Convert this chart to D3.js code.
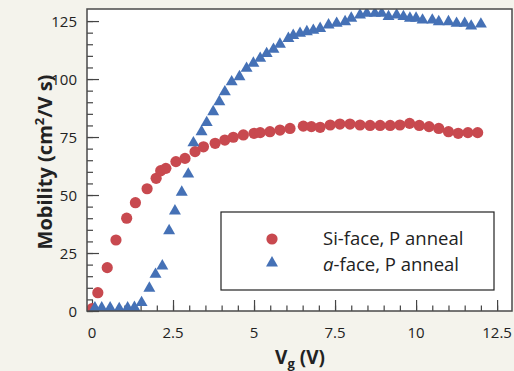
<!DOCTYPE html>
<html>
<head>
<meta charset="utf-8">
<script src="https://cdn.jsdelivr.net/npm/d3@7"></script>
<style>
  html, body { margin: 0; padding: 0; background: #f4f3ec; }
  svg { display: block; }
  text { font-family: "Open Sans", "Noto Sans", sans-serif; fill: #222; }
</style>
</head>
<body>
<svg id="chart" width="514" height="371"></svg>
<script>
// ---- Data ----
const siVg = [0.0, 0.18, 0.47, 0.74, 1.07, 1.34, 1.70, 1.98, 2.12, 2.28, 2.59, 2.87, 3.18, 3.44, 3.80, 4.10, 4.36, 4.67, 5.00, 5.19, 5.49, 5.80, 6.11, 6.52, 6.77, 7.04, 7.35, 7.65, 7.96, 8.27, 8.58, 8.89, 9.20, 9.50, 9.80, 10.10, 10.40, 10.70, 11.00, 11.30, 11.60, 11.90];
const siMob = [1.0, 7.9, 18.7, 30.6, 40.0, 46.7, 52.7, 57.2, 60.5, 61.5, 64.4, 65.8, 68.7, 70.8, 72.3, 73.7, 74.9, 75.9, 76.6, 76.9, 77.3, 78.0, 78.7, 79.7, 79.5, 79.2, 80.2, 80.6, 80.6, 80.2, 80.0, 80.0, 80.0, 80.2, 80.9, 80.0, 79.5, 78.7, 77.3, 76.6, 76.9, 76.9];

const aVg = [0.09, 0.30, 0.56, 0.84, 1.10, 1.31, 1.53, 1.77, 1.96, 2.17, 2.38, 2.56, 2.77, 2.97, 3.13, 3.38, 3.54, 3.74, 3.93, 4.10, 4.31, 4.55, 4.77, 4.98, 5.19, 5.39, 5.60, 5.80, 6.06, 6.21, 6.42, 6.63, 6.83, 7.04, 7.30, 7.55, 7.81, 8.00, 8.27, 8.48, 8.73, 8.94, 9.15, 9.40, 9.61, 9.81, 10.00, 10.20, 10.50, 10.70, 11.00, 11.25, 11.50, 11.70, 12.00];
const aMob = [1.3, 1.3, 1.3, 1.0, 1.3, 1.5, 3.6, 9.8, 15.8, 19.4, 34.6, 43.1, 51.2, 59.0, 72.5, 77.3, 81.2, 85.9, 90.2, 94.5, 98.8, 101.0, 104.6, 106.8, 108.9, 111.0, 112.8, 115.0, 117.5, 118.8, 119.7, 120.4, 121.0, 121.8, 123.3, 124.0, 124.7, 126.2, 127.6, 128.3, 128.3, 128.3, 126.9, 127.6, 126.9, 126.2, 126.2, 125.4, 125.4, 124.7, 124.7, 124.0, 124.0, 122.8, 123.7];

const xTicks = [0, 2.5, 5, 7.5, 10, 12.5];
const yTicks = [0, 25, 50, 75, 100, 125];
const seriesNames = ["Si-face, P anneal", "a-face, P anneal"];

// ---- Layout ----
const svg = d3.select("#chart");
const L = 87, R = 512, T = 9, B = 311;
const red = "#c8494f", blue = "#4571b6";

const x = d3.scaleLinear().domain([-0.154, 12.96]).range([L, R]);
const y = d3.scaleLinear().domain([0, 130.2]).range([B, T]);

svg.append("rect").attr("x", L).attr("y", T).attr("width", R - L).attr("height", B - T)
  .attr("fill", "#fff");

svg.append("clipPath").attr("id", "plotclip")
  .append("rect").attr("x", L).attr("y", T).attr("width", R - L).attr("height", B - T);

const xMinor = d3.range(0, 12.51, 0.5);
const yMinor = d3.range(0, 125.1, 5);
const tickColor = "#444";

// X axis (ticks point inward)
const gxm = svg.append("g").attr("transform", `translate(0,${B})`)
  .call(d3.axisTop(x).tickValues(xMinor).tickSize(5.5).tickFormat(""));
const gxM = svg.append("g").attr("transform", `translate(0,${B})`)
  .call(d3.axisTop(x).tickValues(xTicks).tickSize(11).tickFormat(""));
[gxm, gxM].forEach(g => {
  g.select(".domain").remove();
  g.selectAll("line").attr("stroke", tickColor).attr("stroke-width", 1.2);
});
svg.append("g").selectAll("text").data(xTicks).join("text")
  .attr("x", d => x(d)).attr("y", 338)
  .attr("text-anchor", "middle").attr("font-size", 15)
  .text(d => d3.format("")(d));

// Y axis (ticks point inward)
const gym = svg.append("g").attr("transform", `translate(${L},0)`)
  .call(d3.axisRight(y).tickValues(yMinor).tickSize(6).tickFormat(""));
const gyM = svg.append("g").attr("transform", `translate(${L},0)`)
  .call(d3.axisRight(y).tickValues(yTicks).tickSize(12).tickFormat(""));
[gym, gyM].forEach(g => {
  g.select(".domain").remove();
  g.selectAll("line").attr("stroke", tickColor).attr("stroke-width", 1.2);
});
svg.append("g").selectAll("text").data(yTicks).join("text")
  .attr("x", 77).attr("y", d => y(d) + 5.5)
  .attr("text-anchor", "end").attr("font-size", 15)
  .text(d => d);

// data
const plot = svg.append("g").attr("clip-path", "url(#plotclip)");
plot.selectAll("circle.si").data(siVg.map((v, i) => [v, siMob[i]])).join("circle")
  .attr("class", "si")
  .attr("cx", d => x(d[0])).attr("cy", d => y(d[1])).attr("r", 5.6)
  .attr("fill", red);

const tri = d3.symbol().type(d3.symbolTriangle).size(62);
plot.selectAll("path.a").data(aVg.map((v, i) => [v, aMob[i]])).join("path")
  .attr("class", "a")
  .attr("transform", d => `translate(${x(d[0])},${y(d[1])})`)
  .attr("d", tri)
  .attr("fill", blue);

// frame
svg.append("rect").attr("x", L).attr("y", T).attr("width", R - L).attr("height", B - T)
  .attr("fill", "none").attr("stroke", "#4a4a4a").attr("stroke-width", 1.5);

// legend
const lg = svg.append("g");
lg.append("rect").attr("x", 221).attr("y", 212).attr("width", 273).attr("height", 78)
  .attr("fill", "#fff").attr("stroke", "#222").attr("stroke-width", 1.2);
lg.append("circle").attr("cx", 272).attr("cy", 239).attr("r", 5.6).attr("fill", red);
lg.append("path").attr("transform", "translate(272,263)").attr("d", tri).attr("fill", blue);
lg.append("text").attr("x", 323).attr("y", 245).attr("font-size", 18.5).text(seriesNames[0]);
const t2 = lg.append("text").attr("x", 323).attr("y", 271).attr("font-size", 18.5);
t2.append("tspan").attr("font-style", "italic").text("a");
t2.append("tspan").text("-face, P anneal");

// axis titles
const yt = svg.append("text")
  .attr("transform", "translate(52,162) rotate(-90)")
  .attr("text-anchor", "middle").attr("font-size", 20).attr("font-weight", "bold");
yt.append("tspan").text("Mobility (cm");
yt.append("tspan").attr("font-size", 13).attr("dy", -8).text("2");
yt.append("tspan").attr("dy", 8).text("/V s)");

const xt = svg.append("text")
  .attr("x", 300).attr("y", 364)
  .attr("text-anchor", "middle").attr("font-size", 19).attr("font-weight", "bold");
xt.append("tspan").text("V");
xt.append("tspan").attr("font-size", 13).attr("dy", 4).text("g");
xt.append("tspan").attr("dy", -4).text(" (V)");
</script>
</body>
</html>
